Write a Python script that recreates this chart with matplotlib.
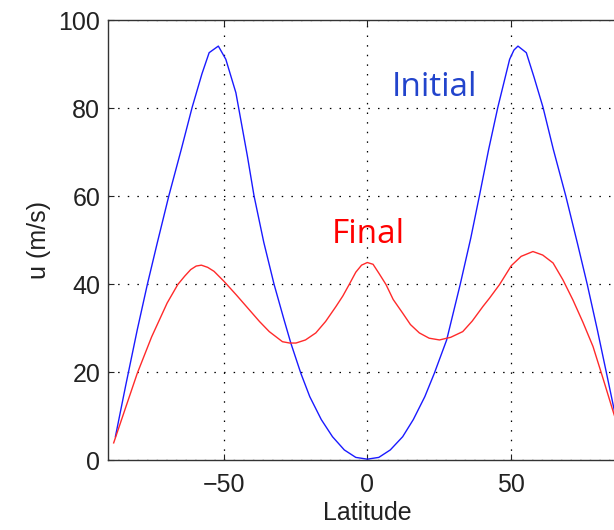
import matplotlib
matplotlib.use("Agg")
import matplotlib.pyplot as plt

# zonal wind profile, initial jet vs final state
lat_init = [-87.6, -84.0, -80.0, -76.5, -73.1, -69.0, -64.7, -60.9, -57.5, -55.0,
            -53.3, -51.8, -49.2, -45.7, -41.7, -39.4, -36.0, -32.4, -29.0, -26.6,
            -23.1, -20.0, -16.0, -12.1, -8.0, -4.0, 0.0,
            4.0, 8.0, 12.3, 16.0, 20.0, 23.3, 27.6, 32.3, 36.0, 39.0,
            42.2, 45.4, 49.5, 51.0, 52.4, 55.3, 58.0, 61.1, 64.7, 69.0,
            73.1, 76.5, 80.0, 83.2, 87.6]
u_init = [5.3, 17.0, 29.6, 39.9, 49.2, 60.1, 70.6, 80.2, 87.8, 92.6,
          93.4, 94.1, 91.1, 83.5, 69.1, 60.1, 49.5, 39.9, 32.0, 26.6,
          19.7, 14.4, 9.2, 5.3, 2.3, 0.6, 0.2,
          0.6, 2.3, 5.3, 9.2, 14.4, 19.7, 27.3, 39.9, 50.5, 60.1,
          70.6, 80.2, 91.1, 93.2, 94.1, 92.6, 87.0, 80.2, 70.6, 60.1,
          49.2, 39.9, 29.6, 19.7, 6.0]

lat_final = [-88.2, -84.0, -80.0, -75.0, -69.6, -65.9, -63.5, -61.4, -59.5, -57.7,
             -55.5, -53.3, -49.8, -45.5, -41.1, -37.5, -34.1, -29.5, -27.0, -24.8,
             -21.5, -17.9, -14.5, -10.9, -8.5, -6.3, -4.0, -2.0, 0.0, 2.0,
             4.0, 6.5, 9.0, 12.3, 15.0, 18.1, 21.5, 25.1, 29.0, 33.2,
             36.5, 40.2, 42.5, 46.0, 50.1, 53.5, 57.6, 61.0, 64.6, 68.0,
             71.5, 75.0, 78.5, 82.0, 85.7, 88.2]
u_final = [3.9, 12.0, 19.7, 28.0, 35.7, 39.9, 41.8, 43.3, 44.1, 44.3,
           43.8, 42.9, 40.6, 37.5, 34.2, 31.5, 29.2, 26.9, 26.6, 26.6,
           27.3, 28.9, 31.5, 34.9, 37.3, 39.9, 42.7, 44.3, 44.9, 44.5,
           42.5, 39.9, 36.5, 33.4, 30.8, 28.9, 27.7, 27.3, 27.9, 29.2,
           31.6, 34.9, 36.8, 39.9, 44.2, 46.3, 47.4, 46.6, 44.8, 41.0,
           36.4, 31.3, 25.8, 18.5, 10.6, 5.5]

xticks = [-50, 0, 50]
yticks = [0, 20, 40, 60, 80, 100]

plt.rcParams["font.family"] = ["Liberation Sans", "DejaVu Sans"]

fig = plt.figure(figsize=(6.14, 5.30), dpi=100)
ax = fig.add_axes([0.1767, 0.132, 0.843, 0.830])

ax.plot(lat_init, u_init, color="#1a1aff", lw=1.0)
ax.plot(lat_final, u_final, color="#ff2a2a", lw=1.0)

ax.set_xlim(-90, 90)
ax.set_ylim(0, 100)
ax.set_xticks(xticks)
ax.set_yticks(yticks)
ax.set_xticklabels(["\u221250", "0", "50"])

ax.grid(True, color="black", lw=0.9, linestyle=(0, (1.2, 6.5)))
ax.tick_params(direction="in", length=4, width=0.8, labelsize=18,
               top=True, right=True, colors="#222222")
ax.tick_params(axis="x", pad=9)
ax.tick_params(axis="y", pad=6)
for s in ax.spines.values():
    s.set_color("#333333")
    s.set_linewidth(1.0)

ax.set_xlabel("Latitude", fontsize=18, labelpad=3, color="#222222")
ax.set_ylabel("u (m/s)", fontsize=18, labelpad=5, color="#222222")

ax.text(8.4, 82.7, "Initial", color="#2244cc", fontsize=24,
        family=["Open Sans", "DejaVu Sans"], ha="left", va="baseline")
ax.text(-12.5, 49.4, "Final", color="#ff0000", fontsize=24,
        family=["Open Sans", "DejaVu Sans"], ha="left", va="baseline")

fig.savefig("out.png", dpi=100)
